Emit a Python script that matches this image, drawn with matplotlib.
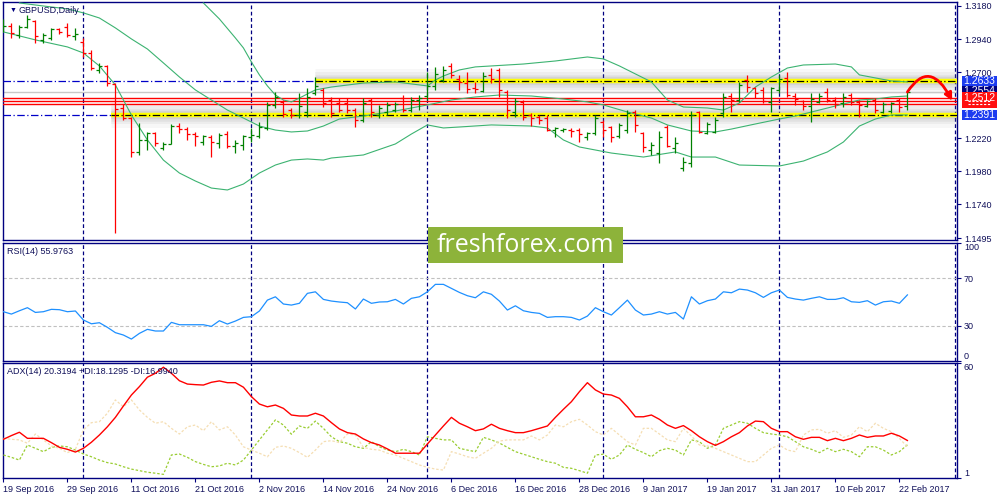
import numpy as np
import matplotlib.pyplot as plt
from matplotlib.patches import Rectangle, FancyArrowPatch
from matplotlib.path import Path

plt.rcParams['font.family'] = ['Liberation Sans', 'DejaVu Sans']

# GBPUSD daily bars, 19 Sep 2016 .. 23 Feb 2017
opens = [1.3021, 1.3035, 1.2970, 1.3028, 1.3072, 1.2934, 1.2948, 1.3013, 1.3028, 1.2963,
         1.2919, 1.2839, 1.2716, 1.2745, 1.2614, 1.2440, 1.2367, 1.2121, 1.2208, 1.2258,
         1.2150, 1.2179, 1.2309, 1.2287, 1.2251, 1.2193, 1.2229, 1.2186, 1.2251, 1.2164,
         1.2171, 1.2229, 1.2237, 1.2295, 1.2462, 1.2484, 1.2425, 1.2389, 1.2411, 1.2549,
         1.2571, 1.2498, 1.2476, 1.2476, 1.2425, 1.2353, 1.2498, 1.2389, 1.2411, 1.2425,
         1.2512, 1.2425, 1.2498, 1.2527, 1.2600, 1.2643, 1.2745, 1.2651, 1.2621, 1.2585,
         1.2563, 1.2680, 1.2716, 1.2556, 1.2411, 1.2484, 1.2389, 1.2375, 1.2367, 1.2280,
         1.2280, 1.2280, 1.2280, 1.2229, 1.2258, 1.2338, 1.2302, 1.2237, 1.2280, 1.2411,
         1.2258, 1.2135, 1.2113, 1.2302, 1.2150, 1.2004, 1.2041, 1.2411, 1.2258, 1.2266,
         1.2404, 1.2527, 1.2498, 1.2643, 1.2585, 1.2571, 1.2484, 1.2571, 1.2658, 1.2527,
         1.2491, 1.2454, 1.2484, 1.2556, 1.2498, 1.2476, 1.2534, 1.2484, 1.2454, 1.2498,
         1.2411, 1.2418, 1.2498, 1.2454]
highs = [1.3086, 1.3057, 1.3043, 1.3115, 1.3079, 1.2984, 1.3021, 1.3021, 1.3057, 1.3021,
         1.2948, 1.2861, 1.2767, 1.2752, 1.2621, 1.2469, 1.2375, 1.2331, 1.2266, 1.2266,
         1.2193, 1.2324, 1.2331, 1.2302, 1.2266, 1.2244, 1.2244, 1.2258, 1.2273, 1.2208,
         1.2244, 1.2295, 1.2338, 1.2484, 1.2556, 1.2498, 1.2440, 1.2549, 1.2585, 1.2665,
         1.2585, 1.2520, 1.2512, 1.2512, 1.2440, 1.2512, 1.2512, 1.2462, 1.2484, 1.2484,
         1.2534, 1.2520, 1.2534, 1.2701, 1.2738, 1.2745, 1.2767, 1.2680, 1.2701, 1.2629,
         1.2701, 1.2730, 1.2730, 1.2571, 1.2512, 1.2498, 1.2404, 1.2389, 1.2389, 1.2302,
         1.2295, 1.2295, 1.2295, 1.2266, 1.2389, 1.2353, 1.2309, 1.2331, 1.2425, 1.2425,
         1.2266, 1.2193, 1.2273, 1.2317, 1.2229, 1.2084, 1.2418, 1.2418, 1.2338, 1.2375,
         1.2549, 1.2549, 1.2629, 1.2680, 1.2592, 1.2592, 1.2592, 1.2680, 1.2701, 1.2549,
         1.2498, 1.2549, 1.2549, 1.2585, 1.2520, 1.2549, 1.2549, 1.2498, 1.2498, 1.2512,
         1.2484, 1.2484, 1.2512, 1.2556]
lows = [1.2992, 1.2948, 1.2948, 1.3021, 1.2912, 1.2912, 1.2934, 1.2977, 1.2955, 1.2934,
        1.2810, 1.2716, 1.2694, 1.2600, 1.1532, 1.2353, 1.2084, 1.2099, 1.2135, 1.2164,
        1.2135, 1.2179, 1.2258, 1.2208, 1.2164, 1.2171, 1.2084, 1.2150, 1.2150, 1.2113,
        1.2135, 1.2193, 1.2222, 1.2280, 1.2440, 1.2375, 1.2367, 1.2367, 1.2375, 1.2534,
        1.2447, 1.2375, 1.2411, 1.2404, 1.2302, 1.2338, 1.2375, 1.2367, 1.2389, 1.2411,
        1.2411, 1.2411, 1.2425, 1.2498, 1.2571, 1.2629, 1.2658, 1.2571, 1.2549, 1.2549,
        1.2556, 1.2621, 1.2520, 1.2367, 1.2375, 1.2353, 1.2309, 1.2324, 1.2273, 1.2229,
        1.2266, 1.2229, 1.2193, 1.2208, 1.2244, 1.2229, 1.2193, 1.2222, 1.2258, 1.2266,
        1.2121, 1.2099, 1.2041, 1.2157, 1.2113, 1.1983, 1.2012, 1.2258, 1.2251, 1.2258,
        1.2375, 1.2411, 1.2484, 1.2556, 1.2512, 1.2476, 1.2411, 1.2549, 1.2520, 1.2462,
        1.2425, 1.2338, 1.2476, 1.2484, 1.2440, 1.2447, 1.2462, 1.2375, 1.2447, 1.2404,
        1.2404, 1.2404, 1.2411, 1.2425]
closes = [1.3035, 1.2984, 1.3028, 1.3086, 1.2963, 1.2970, 1.3013, 1.2992, 1.2970, 1.2977,
          1.2839, 1.2730, 1.2745, 1.2621, 1.2433, 1.2367, 1.2121, 1.2208, 1.2258, 1.2186,
          1.2179, 1.2309, 1.2287, 1.2251, 1.2237, 1.2237, 1.2193, 1.2244, 1.2164, 1.2186,
          1.2237, 1.2244, 1.2302, 1.2462, 1.2520, 1.2396, 1.2389, 1.2454, 1.2520, 1.2600,
          1.2476, 1.2404, 1.2425, 1.2425, 1.2353, 1.2476, 1.2411, 1.2440, 1.2462, 1.2469,
          1.2425, 1.2498, 1.2512, 1.2600, 1.2687, 1.2716, 1.2680, 1.2629, 1.2578, 1.2578,
          1.2672, 1.2651, 1.2571, 1.2425, 1.2491, 1.2375, 1.2367, 1.2353, 1.2280, 1.2295,
          1.2287, 1.2273, 1.2251, 1.2258, 1.2367, 1.2280, 1.2229, 1.2317, 1.2404, 1.2317,
          1.2157, 1.2171, 1.2229, 1.2164, 1.2186, 1.2048, 1.2389, 1.2266, 1.2324, 1.2353,
          1.2520, 1.2498, 1.2607, 1.2592, 1.2549, 1.2491, 1.2585, 1.2651, 1.2534, 1.2505,
          1.2454, 1.2505, 1.2527, 1.2498, 1.2469, 1.2520, 1.2484, 1.2462, 1.2491, 1.2425,
          1.2469, 1.2476, 1.2447, 1.2556]

# Bollinger bands, read at a subset of bars
bb_up_idx = [25, 27, 29, 30, 31, 32, 33, 34, 35, 36, 37, 38, 39, 41, 45, 49, 53, 54, 55, 57, 59, 61,
             65, 69, 73, 75, 77, 79, 81, 83, 85, 88, 90, 92, 94, 96, 98, 100, 104, 106, 107, 109, 111, 113]
bb_up = [1.3202, 1.3086, 1.2948, 1.2876, 1.2774, 1.2680, 1.2600, 1.2534, 1.2498, 1.2484, 1.2512,
         1.2542, 1.2571, 1.2592, 1.2621, 1.2629, 1.2600, 1.2643, 1.2672, 1.2716, 1.2738, 1.2745,
         1.2759, 1.2781, 1.2810, 1.2796, 1.2745, 1.2687, 1.2629, 1.2498, 1.2447, 1.2440, 1.2425,
         1.2476, 1.2592, 1.2665, 1.2730, 1.2752, 1.2759, 1.2738, 1.2680, 1.2658, 1.2636, 1.2629]
bb_mid_idx = [2, 5, 8, 10, 12, 14, 16, 18, 20, 22, 24, 26, 28, 30, 32, 34, 36, 38, 40, 42, 45, 49,
              53, 56, 59, 62, 66, 70, 73, 75, 78, 81, 83, 86, 89, 91, 94, 97, 99, 102, 105, 107,
              109, 111, 113]
bb_mid = [1.3202, 1.3180, 1.3159, 1.3130, 1.3093, 1.3021, 1.2941, 1.2868, 1.2767, 1.2665, 1.2571,
          1.2498, 1.2425, 1.2367, 1.2309, 1.2280, 1.2266, 1.2273, 1.2309, 1.2360, 1.2382, 1.2418,
          1.2462, 1.2498, 1.2520, 1.2534, 1.2527, 1.2505, 1.2484, 1.2462, 1.2411, 1.2367, 1.2317,
          1.2273, 1.2266, 1.2287, 1.2324, 1.2360, 1.2382, 1.2425, 1.2469, 1.2498, 1.2505, 1.2520,
          1.2527]
bb_lo_idx = [0, 4, 8, 10, 12, 14, 16, 18, 20, 22, 24, 26, 28, 30, 32, 34, 36, 38, 40, 41, 45, 49,
             51, 53, 55, 57, 61, 66, 68, 70, 72, 76, 80, 84, 86, 89, 92, 97, 100, 103, 105, 107,
             109, 111, 113]
bb_lo = [1.2992, 1.2934, 1.2883, 1.2839, 1.2745, 1.2607, 1.2389, 1.2208, 1.2062, 1.1968, 1.1910,
         1.1859, 1.1845, 1.1888, 1.1968, 1.2026, 1.2062, 1.2070, 1.2062, 1.2077, 1.2099, 1.2179,
         1.2251, 1.2317, 1.2295, 1.2302, 1.2317, 1.2309, 1.2295, 1.2208, 1.2157, 1.2113, 1.2084,
         1.2121, 1.2084, 1.2084, 1.2026, 1.2019, 1.2055, 1.2121, 1.2193, 1.2309, 1.2360, 1.2389,
         1.2389]

rsi = [41.8, 39.8, 42.6, 45.2, 41.2, 41.8, 43.8, 43.5, 41.8, 42.4,
       34.8, 31.6, 32.5, 28.6, 24.1, 22.1, 18.7, 23.5, 26.9, 25.5,
       25.5, 32.8, 30.8, 30.8, 30.8, 30.8, 29.4, 34.2, 31.4, 33.9,
       37.0, 37.6, 42.4, 51.6, 54.4, 48.3, 47.4, 48.9, 57.3, 58.6,
       52.2, 50.8, 50.0, 49.4, 44.1, 52.5, 48.9, 50.0, 50.2, 52.2,
       48.3, 53.1, 54.4, 58.6, 64.9, 64.9, 61.5, 58.1, 55.3, 53.6,
       58.6, 56.5, 50.8, 43.2, 46.8, 42.6, 41.2, 40.4, 37.0, 37.6,
       37.6, 37.0, 34.8, 38.1, 45.2, 41.8, 39.0, 45.2, 51.6, 43.2,
       39.0, 39.8, 41.8, 39.8, 41.2, 35.6, 54.4, 48.3, 51.1, 52.5,
       58.6, 57.8, 60.9, 60.1, 57.8, 53.9, 57.8, 60.1, 53.9, 52.5,
       51.6, 53.1, 54.4, 52.2, 52.2, 53.6, 50.2, 49.7, 51.1, 47.4,
       50.2, 50.8, 48.9, 56.0]

adx = [20.9, 22.8, 24.5, 21.4, 21.4, 21.4, 19.2, 16.8, 15.8, 14.4,
       16.3, 19.4, 23.1, 27.3, 32.1, 37.9, 43.5, 47.8, 52.6, 54.6,
       57.7, 54.6, 50.8, 49.1, 48.8, 48.6, 50.0, 50.7, 49.8, 49.8,
       47.5, 42.7, 38.9, 37.5, 38.4, 36.7, 33.3, 32.8, 32.8, 34.2,
       32.8, 29.4, 26.2, 24.3, 23.6, 21.1, 19.2, 18.0, 16.0, 13.8,
       13.8, 13.8, 13.8, 18.5, 23.1, 27.7, 32.1, 29.1, 27.3, 25.3,
       26.2, 28.6, 26.5, 25.3, 24.3, 24.3, 25.3, 26.5, 27.7, 32.1,
       36.2, 40.1, 45.2, 49.8, 46.1, 44.0, 43.5, 41.8, 37.5, 32.4,
       32.4, 33.3, 31.1, 28.2, 26.5, 27.9, 25.3, 22.2, 19.7, 17.8,
       19.7, 22.2, 24.3, 27.7, 30.2, 29.9, 26.5, 24.8, 24.8, 22.2,
       20.9, 21.9, 21.9, 20.2, 21.4, 20.2, 21.4, 23.1, 21.9, 22.6,
       22.6, 24.0, 22.6, 20.3]
plus_di = [12.9, 11.7, 10.3, 18.0, 16.3, 14.6, 16.8, 17.5, 17.1, 15.4,
           13.4, 12.0, 10.3, 9.0, 8.3, 6.9, 5.7, 4.9, 4.1, 3.6,
           3.0, 12.9, 13.4, 11.7, 9.5, 8.1, 6.9, 7.3, 8.7, 7.8,
           10.3, 15.4, 20.6, 25.7, 30.8, 28.2, 23.5, 27.7, 26.5, 30.2,
           26.5, 22.2, 19.7, 18.9, 17.1, 16.3, 19.7, 17.1, 15.4, 14.6,
           15.8, 14.6, 12.9, 22.2, 21.4, 20.6, 20.6, 16.3, 15.4, 14.6,
           21.9, 20.6, 19.0, 16.8, 14.6, 13.3, 12.0, 10.7, 9.5, 8.7,
           6.6, 6.1, 4.9, 3.6, 12.9, 13.3, 10.7, 12.9, 18.0, 15.8,
           14.1, 12.0, 15.1, 16.3, 15.4, 12.9, 20.6, 19.7, 16.3, 18.0,
           26.5, 28.2, 29.9, 29.1, 26.5, 24.3, 23.6, 23.1, 22.2, 19.7,
           17.1, 15.8, 14.1, 16.3, 14.6, 15.8, 14.6, 12.0, 17.1, 17.1,
           15.4, 12.9, 14.6, 18.1]
minus_di = [21.4, 20.9, 20.6, 18.9, 23.6, 20.6, 17.5, 16.3, 14.1, 15.8,
            25.7, 29.4, 29.9, 34.2, 41.0, 37.5, 41.0, 35.9, 32.1, 29.1,
            29.9, 26.5, 23.6, 27.3, 28.2, 25.3, 29.9, 25.7, 27.3, 23.1,
            17.1, 15.4, 13.8, 12.0, 16.8, 17.5, 16.3, 14.1, 11.7, 15.4,
            19.7, 20.2, 19.2, 23.6, 23.1, 16.8, 15.8, 15.4, 13.8, 12.9,
            11.2, 9.5, 7.8, 6.6, 5.7, 5.2, 14.6, 13.4, 12.0, 11.2,
            13.8, 16.3, 20.0, 20.6, 20.6, 20.6, 22.6, 20.6, 23.1, 28.2,
            27.3, 29.9, 31.1, 28.2, 24.8, 23.1, 26.5, 23.1, 19.7, 18.0,
            26.5, 26.5, 23.6, 20.6, 19.7, 26.5, 22.6, 18.0, 17.5, 16.3,
            14.6, 12.9, 11.2, 9.5, 9.5, 12.9, 16.3, 18.0, 15.4, 14.6,
            23.1, 25.7, 26.0, 24.0, 25.3, 21.9, 23.1, 27.3, 24.8, 29.1,
            26.5, 24.8, 21.4, 17.0]

date_labels = ["19 Sep 2016", "29 Sep 2016", "11 Oct 2016", "21 Oct 2016", "2 Nov 2016",
               "14 Nov 2016", "24 Nov 2016", "6 Dec 2016", "16 Dec 2016", "28 Dec 2016",
               "9 Jan 2017", "19 Jan 2017", "31 Jan 2017", "10 Feb 2017", "22 Feb 2017"]
period_seps = [10, 31, 53, 75, 97, 119]
price_ticks = [1.1495, 1.1740, 1.1980, 1.2220, 1.2700, 1.2940, 1.3180]
res_level, sup_level = 1.2633, 1.2391
res_start, sup_start = 39, 13.4
red_levels = [1.2512, 1.2494, 1.2472]
bid = 1.2556

NAVY = '#000080'
BULL = '#008000'
BEAR = '#ff0000'
XMAX = 119.2

fig = plt.figure(figsize=(10, 5), dpi=100)
ax = fig.add_axes([0.003, 0.52, 0.954, 0.476])
ax_rsi = fig.add_axes([0.003, 0.2776, 0.954, 0.2368])
ax_adx = fig.add_axes([0.003, 0.0434, 0.954, 0.2312])

for a in (ax, ax_rsi, ax_adx):
    a.set_xlim(-0.05, XMAX)
    for s in a.spines.values():
        s.set_color(NAVY)
        s.set_linewidth(1.0)
    a.yaxis.tick_right()
    a.tick_params(axis='y', direction='out', length=3, width=0.8, color=NAVY,
                  labelcolor='#10105a', labelsize=6.5, pad=2)
    for b in period_seps:
        a.axvline(b, color=NAVY, ls=(0, (3, 2)), lw=0.9, zorder=1)
for a in (ax, ax_rsi):
    a.tick_params(axis='x', bottom=False, labelbottom=False)

# ---- price panel
x = np.arange(len(closes))
o, h, l, c = map(np.array, (opens, highs, lows, closes))
col = np.where(c >= o, BULL, BEAR)

ax.set_ylim(1.1482, 1.3209)
ax.set_yticks(price_ticks)
ax.set_yticklabels(['%.4f' % t for t in price_ticks])

# shadows + yellow zones
for lvl, start in ((res_level, res_start), (sup_level, sup_start)):
    for w, al in ((18, 0.05), (13, 0.07), (9, 0.09), (6, 0.12)):
        ax.hlines(lvl, start, XMAX, color='#707070', lw=w, alpha=al, zorder=2)
    ax.hlines(lvl, start, XMAX, color='#ffff00', lw=3.2, zorder=3)
    ax.hlines(lvl, -0.05, start, color='#0000c8', lw=0.9, ls=(0, (6, 2, 1, 2)), zorder=3)
    ax.hlines(lvl, start, XMAX, color='black', lw=0.9, ls=(0, (6, 2, 1, 2)), zorder=4)

ax.axhline(bid, color='#c8c8c8', lw=1.0, zorder=2)
for lvl in red_levels:
    ax.axhline(lvl, color='red', lw=1.0, zorder=3)

ax.plot(bb_up_idx, bb_up, color='#3cb371', lw=0.8, zorder=4)
ax.plot(bb_mid_idx, bb_mid, color='#3cb371', lw=0.8, zorder=4)
ax.plot(bb_lo_idx, bb_lo, color='#3cb371', lw=0.8, zorder=4)

ax.vlines(x, l, h, colors=col, lw=0.9, zorder=5)
ax.hlines(o, x - 0.38, x, colors=col, lw=0.9, zorder=5)
ax.hlines(c, x, x + 0.38, colors=col, lw=0.9, zorder=5)

# hand-drawn arrow
arrow_path = Path([(113.0, 1.2556), (115.8, 1.2803), (118.6, 1.2492)],
                  [Path.MOVETO, Path.CURVE3, Path.CURVE3])
ax.add_patch(FancyArrowPatch(path=arrow_path, arrowstyle='-|>', mutation_scale=11,
                             color='red', lw=2.0, zorder=7))

# price boxes on the right scale (later boxes sit on top of earlier ones)
ytr = ax.get_yaxis_transform()
bx0 = (962 - 3) / 954.0
bw = 35 / 954.0
box_z = [8]


def price_box(y, text, fc, y0, y1):
    z = box_z[0]
    ax.add_patch(Rectangle((bx0, y0), bw, y1 - y0, transform=ytr, fc=fc, ec='none',
                           clip_on=False, zorder=z))
    ax.text(bx0 + bw / 2, y, text, transform=ytr, ha='center', va='center', color='white',
            fontsize=7.5, clip_on=False, zorder=z + 0.5)
    box_z[0] += 1


price_box(1.2633, '1.2633', '#1c3cf0', 1.2597, 1.2670)
price_box(1.2560, '1.2554', NAVY, 1.2520, 1.2597)
price_box(1.2512, '1.2512', '#ff1010', 1.2438, 1.2558)
for yy in (1.2487, 1.2466):
    ax.plot([bx0 + 0.006, bx0 + bw - 0.006], [yy, yy], transform=ytr, color='white',
            lw=0.8, ls=(0, (2, 1.5)), clip_on=False, zorder=20)
price_box(1.2391, '1.2391', '#1c3cf0', 1.2355, 1.2424)

# ---- RSI panel
ax_rsi.set_ylim(0, 100)
ax_rsi.axhline(70, color='#c0c0c0', ls=(0, (3, 2)), lw=0.8)
ax_rsi.axhline(30, color='#c0c0c0', ls=(0, (3, 2)), lw=0.8)
ax_rsi.plot(x, rsi, color='#1e90ff', lw=0.9, zorder=4)
ax_rsi.set_yticks([0, 30, 70, 100])
ax_rsi.set_yticklabels(['0', '30', '70', '100'])
labs = ax_rsi.get_yticklabels()
labs[0].set_va('bottom')
labs[3].set_va('top')

# ---- ADX panel
ax_adx.set_ylim(1, 60)
ax_adx.plot(x, plus_di, color='#9acd32', lw=0.9, ls=(0, (2, 1.5)), zorder=3)
ax_adx.plot(x, minus_di, color='#f5deb3', lw=0.9, ls=(0, (2, 1.5)), zorder=3)
ax_adx.plot(x, adx, color='#ff0000', lw=1.0, zorder=4)
ax_adx.set_yticks([1, 60])
ax_adx.set_yticklabels(['1', '60'])
labs = ax_adx.get_yticklabels()
labs[0].set_va('bottom')
labs[1].set_va('top')

ax_adx.set_xticks(np.arange(0, 113, 8))
ax_adx.set_xticklabels(date_labels, ha='left', fontsize=6.5, color='#10105a')
ax_adx.tick_params(axis='x', direction='out', length=3, width=0.8, color=NAVY, pad=2)

# ---- captions
fig.text(0.0093, 1 - 10.7 / 500, '\u25bc', fontsize=5, color=NAVY, va='center')
fig.text(0.0183, 1 - 10.7 / 500, 'GBPUSD,Daily', fontsize=6.5, color='#10105a', va='center')
fig.text(0.0073, 1 - 251.7 / 500, 'RSI(14) 55.9763', fontsize=6.5, color='#10105a', va='center')
fig.text(0.0073, 1 - 371.7 / 500, 'ADX(14) 20.3194 +DI:18.1295 -DI:16.9940', fontsize=6.5,
         color='#10105a', va='center')

# ---- watermark
fig.patches.append(Rectangle((0.4275, 0.4746), 0.195, 0.072, transform=fig.transFigure,
                             fc='#8db33a', ec='none', zorder=20))
fig.text(0.525, 0.508, 'freshforex.com', ha='center', va='center', color='white',
         fontsize=18, family='Open Sans', zorder=21)

fig.savefig('out.png', dpi=100, facecolor='white')
